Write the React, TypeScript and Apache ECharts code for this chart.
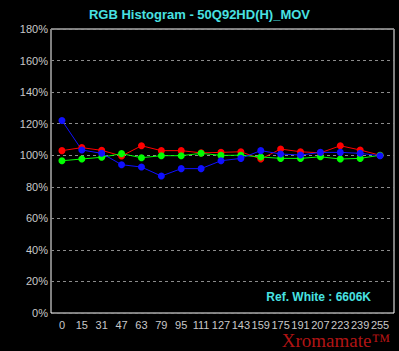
import React, { useEffect, useRef } from "react";
import * as echarts from "echarts";

const categories = ["0", "15", "31", "47", "63", "79", "95", "111", "127", "143", "159", "175", "191", "207", "223", "239", "255"];
const redValues = [102.9, 104.8, 103.1, 99.5, 106, 102.9, 102.9, 101.5, 101.8, 102.2, 97.6, 103.9, 102.2, 101.5, 106, 103.3, 100];
const greenValues = [96.5, 97.6, 98.7, 101, 98.4, 99.7, 99.7, 101.2, 99.9, 100, 98.9, 98, 98, 99, 97.6, 98, 100];
const blueValues = [122, 103.3, 101.2, 94, 92.5, 86.8, 91.5, 91.5, 96.5, 98, 102.9, 100.8, 100.1, 101.8, 101.8, 101.2, 99.7];

const titleText = "RGB Histogram - 50Q92HD(H)_MOV";
const refWhiteText = "Ref. White : 6606K";
const brandText = "Xromamate\u2122";

export default function App() {
  const ref = useRef<HTMLDivElement>(null);
  useEffect(() => {
    if (!ref.current) return;
    const chart = echarts.init(ref.current, null, { renderer: "svg" });
    const font = "'Liberation Sans', Arial, sans-serif";
    const mk = (name: string, color: string, data: number[]) => ({
      name,
      type: "line",
      xAxisIndex: 1,
      yAxisIndex: 1,
      data,
      symbol: "circle",
      symbolSize: 7,
      lineStyle: { color, width: 1 },
      itemStyle: { color },
    });
    chart.setOption({
      animation: false,
      backgroundColor: "#000000",
      title: {
        text: titleText,
        left: "center",
        top: 3,
        textStyle: { color: "#48e2e2", fontSize: 13, fontWeight: "bold", fontFamily: font },
      },
      grid: [
        { left: 51, right: 5, top: 29, bottom: 38, show: true, borderColor: "#ffffff", borderWidth: 1, backgroundColor: "transparent" },
        { left: 52, right: 9, top: 29, bottom: 38 },
      ],
      xAxis: [
        { type: "category", gridIndex: 0, data: categories, show: false },
        {
          type: "category",
          gridIndex: 1,
          data: categories,
          boundaryGap: true,
          axisLine: { show: false },
          axisTick: { show: false },
          splitLine: { show: false },
          axisLabel: { color: "#c8c8c8", fontSize: 11, margin: 6, interval: 0, fontFamily: font },
        },
      ],
      yAxis: [
        {
          type: "value",
          gridIndex: 0,
          min: 0,
          max: 180,
          interval: 20,
          axisLine: { show: false },
          axisTick: { show: false },
          axisLabel: { color: "#c8c8c8", fontSize: 11, margin: 3, formatter: "{value}%", fontFamily: font },
          splitLine: { show: true, lineStyle: { color: "#8c8c8c", type: [3, 3], width: 1 } },
        },
        { type: "value", gridIndex: 1, min: 0, max: 180, interval: 20, show: false, splitLine: { show: false } },
      ],
      series: [mk("R", "#ff0000", redValues), mk("G", "#00ff00", greenValues), mk("B", "#1010ff", blueValues)],
      graphic: [
        {
          type: "text",
          right: 28,
          top: 291,
          style: { text: refWhiteText, fill: "#48e2e2", font: `bold 12px ${font}` },
        },
        {
          type: "text",
          right: 9,
          top: 331,
          style: { text: brandText, fill: "#b01414", font: "19px 'Liberation Serif', 'Times New Roman', serif" },
        },
      ],
    });
    return () => chart.dispose();
  }, []);
  return <div ref={ref} style={{ width: 399, height: 351, position: "absolute", left: 0, top: 0 }} />;
}
